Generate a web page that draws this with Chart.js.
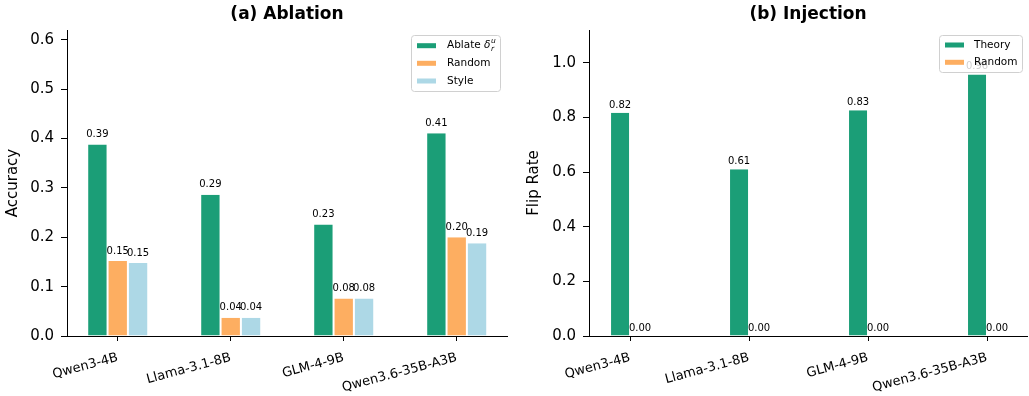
<!DOCTYPE html>
<html>
<head>
<meta charset="utf-8">
<script src="https://cdn.jsdelivr.net/npm/chart.js@4.4.1/dist/chart.umd.min.js"></script>
<style>
  html, body { margin: 0; padding: 0; background: #fff; }
  #wrap { position: relative; width: 1029px; height: 396px; overflow: hidden; }
  #c1 { position: absolute; left: 0; top: 0; }
  #c2 { position: absolute; left: 514px; top: 0; }
</style>
</head>
<body>
<div id="wrap">
  <canvas id="c1" width="514" height="396"></canvas>
  <canvas id="c2" width="515" height="396"></canvas>
</div>
<script>
// Models on the x axis of both panels
const models = ['Qwen3-4B', 'Llama-3.1-8B', 'GLM-4-9B', 'Qwen3.6-35B-A3B'];

// (a) Ablation: accuracy per model
const ablateAcc = [0.388, 0.286, 0.226, 0.411];
const randomAcc = [0.152, 0.037, 0.076, 0.200];
const styleAcc  = [0.148, 0.037, 0.076, 0.188];

// (b) Injection: flip rate per model
const theoryFlip = [0.817, 0.610, 0.826, 0.957];
const randomFlip = [0.00, 0.00, 0.00, 0.00];

// Axis tick values
const accTicks  = [0.0, 0.1, 0.2, 0.3, 0.4, 0.5, 0.6];
const flipTicks = [0.0, 0.2, 0.4, 0.6, 0.8, 1.0];

const GREEN = '#1b9e77', ORANGE = '#fdae61', BLUE = '#add8e6';
const FONT = 'DejaVu Sans';
Chart.defaults.font.family = FONT;
Chart.defaults.color = '#000';

const toPoints = arr => arr.map((v, i) => ({ x: i, y: v }));

function barSet(label, values, color) {
  return {
    label, data: toPoints(values),
    backgroundColor: color,
    borderColor: '#ffffff',
    borderWidth: { left: 1, right: 1, top: 0, bottom: 0 },
    borderSkipped: false,
    barPercentage: 1.0
  };
}

function drawLegend(ctx, box, items) {
  ctx.save();
  ctx.beginPath();
  ctx.roundRect(box.x + 0.5, box.y + 0.5, box.w, box.h, 3);
  ctx.fillStyle = 'rgba(255,255,255,0.8)';
  ctx.fill();
  ctx.strokeStyle = '#d0d0d0';
  ctx.lineWidth = 1;
  ctx.stroke();
  items.forEach((it, k) => {
    const cy = box.rowY[k];
    ctx.fillStyle = it.color;
    ctx.fillRect(box.px, cy - 2.5, 19, 5);
    ctx.fillStyle = '#000';
    ctx.textBaseline = 'middle';
    ctx.textAlign = 'left';
    ctx.font = '10.5px "' + FONT + '"';
    if (it.math) {
      const base = 'Ablate ';
      ctx.fillText(base, box.tx, cy);
      let x = box.tx + ctx.measureText(base).width;
      ctx.font = 'italic 10.5px "' + FONT + '"';
      ctx.fillText('\u03b4', x, cy);
      x += ctx.measureText('\u03b4').width + 0.5;
      ctx.font = 'italic 7.5px "' + FONT + '"';
      ctx.fillText('u', x, cy - 4.5);
      ctx.fillText('r', x, cy + 3.5);
    } else {
      ctx.fillText(it.label, box.tx, cy);
    }
  });
  ctx.restore();
}

function decorPlugin(title, legendBox, legendItems) {
  return {
    id: 'decor',
    afterDatasetsDraw(chart) {
      const ctx = chart.ctx;
      const ys = chart.scales.y;
      ctx.save();
      ctx.font = '10px "' + FONT + '"';
      ctx.fillStyle = '#000';
      ctx.textAlign = 'center';
      ctx.textBaseline = 'alphabetic';
      chart.data.datasets.forEach((ds, di) => {
        const meta = chart.getDatasetMeta(di);
        meta.data.forEach((bar, i) => {
          const v = ds.data[i].y;
          ctx.fillText(v.toFixed(2), bar.x, ys.getPixelForValue(v + 0.01) - 2.5);
        });
      });
      ctx.font = 'bold 17px "' + FONT + '"';
      const ca = chart.chartArea;
      ctx.fillText(title, (ca.left + ca.right) / 2, 19);
      ctx.restore();
    },
    afterDraw(chart) {
      drawLegend(chart.ctx, legendBox, legendItems);
    }
  };
}

function makeOptions(xMin, xMax, yMax, yTicks, yTitle, yWidth, rightPad, titlePadTop) {
  return {
    responsive: false,
    animation: false,
    layout: { padding: { left: 0, top: 30, right: rightPad, bottom: 0 } },
    plugins: { legend: { display: false }, tooltip: { enabled: false }, title: { display: false } },
    scales: {
      x: {
        type: 'linear', min: xMin, max: xMax, offset: false,
        afterBuildTicks: s => { s.ticks = models.map((_, i) => ({ value: i })); },
        afterFit: s => { s.height = 60; },
        ticks: {
          callback: v => models[v] ?? '',
          autoSkip: false, minRotation: 15, maxRotation: 15,
          font: { size: 13 }, color: '#000', padding: 9
        },
        grid: { display: true, offset: false, drawOnChartArea: false, drawTicks: true, tickLength: 5, color: '#000', tickWidth: 1 },
        border: { display: true, color: '#000', width: 1 }
      },
      y: {
        min: 0, max: yMax,
        afterBuildTicks: s => { s.ticks = yTicks.map(v => ({ value: v })); },
        afterFit: s => { s.width = yWidth; },
        ticks: { callback: v => Number(v).toFixed(1), font: { size: 15 }, color: '#000', padding: 7 },
        grid: { display: true, drawOnChartArea: false, drawTicks: true, tickLength: 6, color: '#000', tickWidth: 1 },
        border: { display: true, color: '#000', width: 1 },
        title: { display: true, text: yTitle, font: { size: 15 }, color: '#000', padding: { top: titlePadTop, bottom: 0 } }
      }
    }
  };
}

// (a) Ablation
const optA = makeOptions(-0.449, 3.445, 0.62, accTicks, 'Accuracy', 67, 7, 4);
optA.datasets = { bar: { categoryPercentage: 0.54 } };
new Chart(document.getElementById('c1'), {
  type: 'bar',
  data: {
    datasets: [
      barSet('Ablate', ablateAcc, GREEN),
      barSet('Random', randomAcc, ORANGE),
      barSet('Style', styleAcc, BLUE)
    ]
  },
  options: optA,
  plugins: [decorPlugin('(a) Ablation',
    { x: 411, y: 35, w: 89, h: 56, px: 417, tx: 447, rowY: [45.7, 63.3, 81] },
    [{ color: GREEN, math: true }, { color: ORANGE, label: 'Random' }, { color: BLUE, label: 'Style' }])]
});

// (b) Injection
const optB = makeOptions(-0.345, 3.336, 1.12, flipTicks, 'Flip Rate', 75, 2, 11);
optB.datasets = { bar: { categoryPercentage: 0.336 } };
new Chart(document.getElementById('c2'), {
  type: 'bar',
  data: {
    datasets: [
      barSet('Theory', theoryFlip, GREEN),
      barSet('Random', randomFlip, ORANGE)
    ]
  },
  options: optB,
  plugins: [decorPlugin('(b) Injection',
    { x: 425, y: 35, w: 83, h: 37, px: 431, tx: 460, rowY: [45, 62.3] },
    [{ color: GREEN, label: 'Theory' }, { color: ORANGE, label: 'Random' }])]
});
</script>
</body>
</html>
